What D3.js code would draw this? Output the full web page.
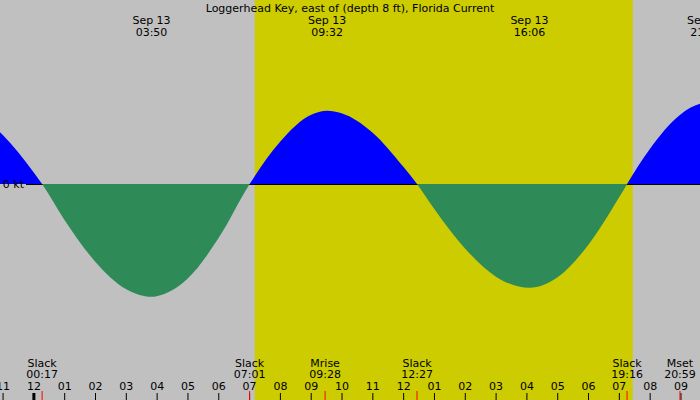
<!DOCTYPE html>
<html>
<head>
<meta charset="utf-8">
<script src="https://cdn.jsdelivr.net/npm/d3@7"></script>
<style>
  body { margin: 0; background: #fff; }
  svg text { font-family: "DejaVu Sans", sans-serif; font-size: 11px; fill: #000; }
</style>
</head>
<body>
<div id="chart"></div>
<script>
var svgWidth = 700;
var svgHeight = 400;

var title = "Loggerhead Key, east of (depth 8 ft), Florida Current";
var dayLabel = "Sep 13";

// current speed (kt, + flood / - ebb)
var sampleTimes = ["12 21:00", "12 22:00", "12 23:00", "13 00:00", "13 00:17", "13 01:00",
  "13 02:00", "13 03:00", "13 03:50", "13 04:00", "13 05:00", "13 06:00", "13 07:01",
  "13 08:00", "13 09:00", "13 09:32", "13 10:00", "13 11:00", "13 12:00", "13 12:27",
  "13 13:00", "13 14:00", "13 15:00", "13 16:06", "13 17:00", "13 18:00", "13 19:00",
  "13 19:16", "13 20:00", "13 21:00", "13 21:50", "13 22:30"];
var speeds = [1.30, 1.23, 0.82, 0.20, 0, -0.59,
  -1.29, -1.75, -1.88, -1.87, -1.58, -0.91, 0,
  0.70, 1.15, 1.22, 1.18, 0.86, 0.29, 0,
  -0.41, -1.07, -1.54, -1.73, -1.56, -1.02, -0.23,
  0, 0.58, 1.16, 1.35, 1.32];

// max current labels along the top
var peakTimes = ["13 03:50", "13 09:32", "13 16:06", "13 21:50"];

// events along the bottom
var eventNames = ["Slack", "Slack", "Mrise", "Slack", "Slack", "Mset"];
var eventTimes = ["13 00:17", "13 07:01", "13 09:28", "13 12:27", "13 19:16", "13 20:59"];

var sunrise = "13 07:11";
var sunset = "13 19:27";
var viewStart = "12 22:55";
var viewEnd = "13 21:38";

var parse = d3.timeParse("%Y-%m-%d %H:%M");
function t(s) { return parse("2024-09-" + s); }
var hhmm = d3.timeFormat("%H:%M");

var svg = d3.select("#chart")
  .append("svg")
  .attr("width", svgWidth)
  .attr("height", svgHeight);

var xScale = d3.scaleTime()
  .domain([t(viewStart), t(viewEnd)])
  .range([0, svgWidth]);

var yScale = d3.scaleLinear()
  .domain([-2, 2])
  .range([304, 64]);

var y0 = yScale(0);

// background and daylight
svg.append("rect")
  .attr("width", svgWidth)
  .attr("height", svgHeight)
  .attr("fill", "#c0c0c0");

svg.append("rect")
  .attr("x", xScale(t(sunrise)))
  .attr("width", xScale(t(sunset)) - xScale(t(sunrise)))
  .attr("height", svgHeight)
  .attr("fill", "#cccc00");

var defs = svg.append("defs");
defs.append("clipPath").attr("id", "above")
  .append("rect").attr("width", svgWidth).attr("height", y0);
defs.append("clipPath").attr("id", "below")
  .append("rect").attr("y", y0).attr("width", svgWidth).attr("height", svgHeight - y0);

var data = sampleTimes.map(function(s, i) {
  return { time: t(s), kt: speeds[i] };
});

var area = d3.area()
  .curve(d3.curveMonotoneX)
  .x(d => xScale(d.time))
  .y0(y0)
  .y1(d => yScale(d.kt));

svg.append("path")
  .datum(data)
  .attr("clip-path", "url(#above)")
  .attr("fill", "#0000ff")
  .attr("d", area);

svg.append("line")
  .attr("x1", 26)
  .attr("x2", svgWidth)
  .attr("y1", y0 + 0.5)
  .attr("y2", y0 + 0.5)
  .attr("stroke", "#000")
  .attr("stroke-width", 1);

svg.append("path")
  .datum(data)
  .attr("clip-path", "url(#below)")
  .attr("fill", "#2e8b57")
  .attr("d", area);

svg.append("text")
  .attr("x", 24)
  .attr("y", y0 + 3.5)
  .attr("text-anchor", "end")
  .text("0 kt");

// title and top labels
svg.append("text")
  .attr("x", svgWidth / 2)
  .attr("y", 12)
  .attr("text-anchor", "middle")
  .text(title);

var peaks = svg.selectAll(".peak")
  .data(peakTimes)
  .enter()
  .append("g")
  .attr("class", "peak")
  .attr("transform", d => `translate(${xScale(t(d))},0)`);
peaks.append("text").attr("y", 24).attr("text-anchor", "middle").text(dayLabel);
peaks.append("text").attr("y", 36).attr("text-anchor", "middle").text(d => hhmm(t(d)));

// hour axis
var axis = d3.axisTop(xScale)
  .ticks(d3.timeHour.every(1))
  .tickFormat(d3.timeFormat("%I"))
  .tickSize(7)
  .tickPadding(3);

var axisG = svg.append("g")
  .attr("transform", `translate(0,${svgHeight})`)
  .call(axis);
axisG.select(".domain").remove();
axisG.selectAll("text").style("font-family", "DejaVu Sans").style("font-size", "11px");
axisG.selectAll(".tick line")
  .attr("stroke", "#000")
  .attr("stroke-width", d => d.getHours() === 0 ? 3 : 1);

// event marks
svg.selectAll(".evtick")
  .data(eventTimes)
  .enter()
  .append("line")
  .attr("class", "evtick")
  .attr("x1", d => xScale(t(d)))
  .attr("x2", d => xScale(t(d)))
  .attr("y1", 391)
  .attr("y2", svgHeight)
  .attr("stroke", "#ff0000")
  .attr("stroke-width", 1);

var events = svg.selectAll(".event")
  .data(eventTimes)
  .enter()
  .append("g")
  .attr("class", "event")
  .attr("transform", d => `translate(${xScale(t(d))},0)`);
events.append("text").attr("y", 366.5).attr("text-anchor", "middle").text((d, i) => eventNames[i]);
events.append("text").attr("y", 378).attr("text-anchor", "middle").text(d => hhmm(t(d)));
</script>
</body>
</html>
